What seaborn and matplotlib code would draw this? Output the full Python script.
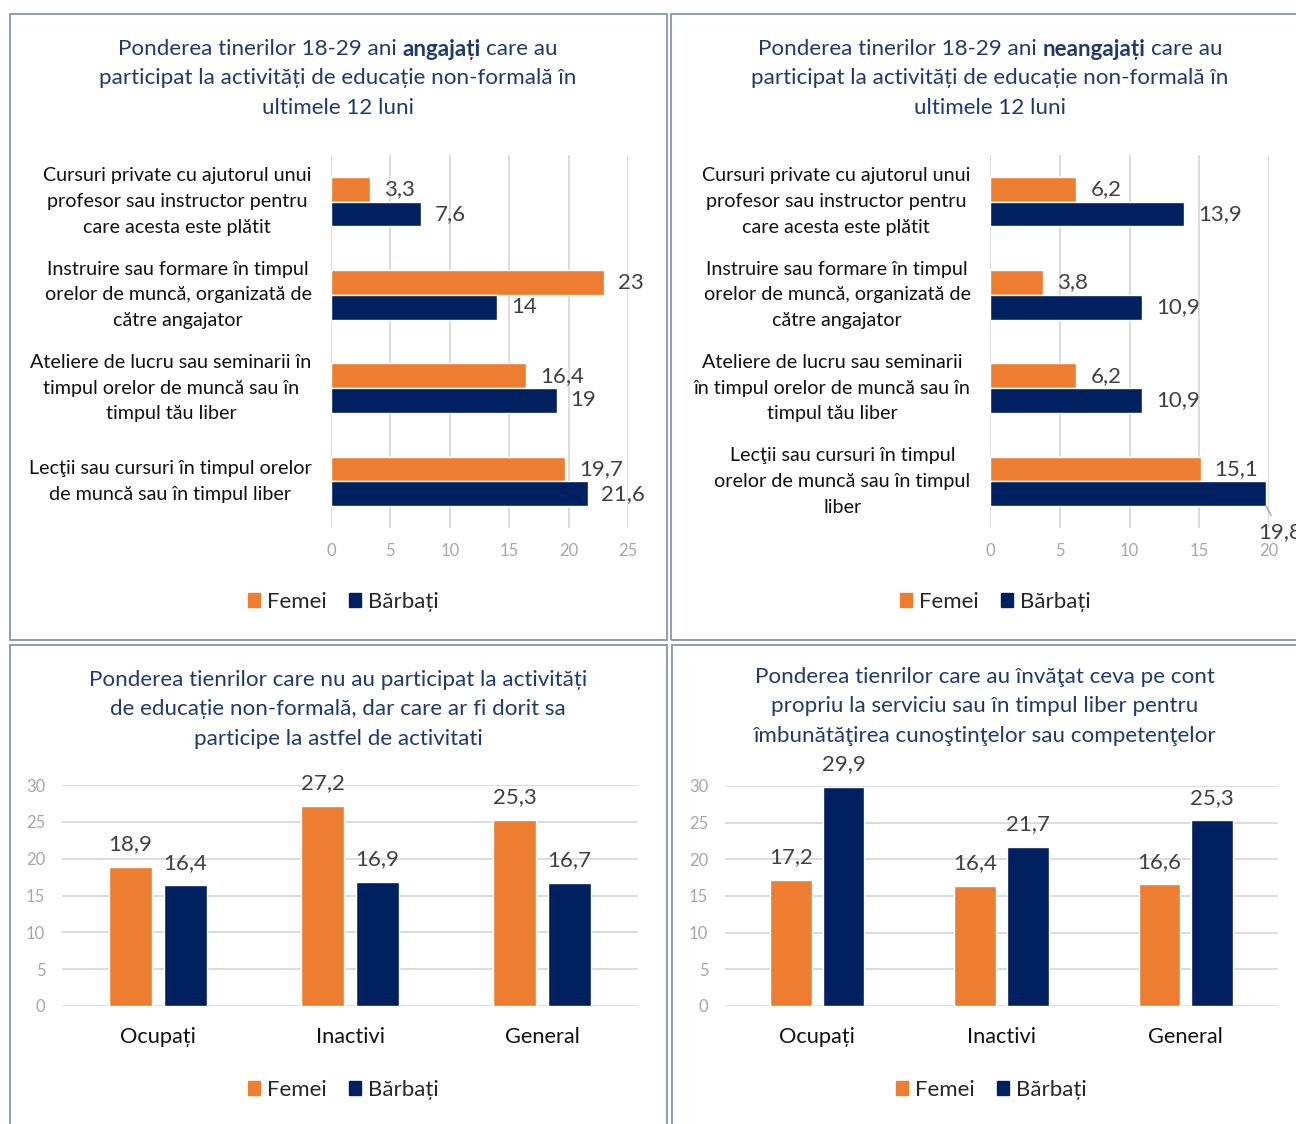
import matplotlib
matplotlib.use('Agg')
import matplotlib.pyplot as plt
import matplotlib.patches as mpatches
import pandas as pd
import seaborn as sns

# --- date ---
etichete_angajati = [
    "Cursuri private cu ajutorul unui\nprofesor sau instructor pentru\ncare acesta este plătit",
    "Instruire sau formare în timpul\norelor de muncă, organizată de\ncătre angajator",
    "Ateliere de lucru sau seminarii în\ntimpul orelor de muncă sau în\ntimpul tău liber",
    "Lecţii sau cursuri în timpul orelor\nde muncă sau în timpul liber",
]
femei_angajati = [3.3, 23, 16.4, 19.7]
barbati_angajati = [7.6, 14, 19, 21.6]

etichete_neangajati = [
    "Cursuri private cu ajutorul unui\nprofesor sau instructor pentru\ncare acesta este plătit",
    "Instruire sau formare în timpul\norelor de muncă, organizată de\ncătre angajator",
    "Ateliere de lucru sau seminarii\nîn timpul orelor de muncă sau în\ntimpul tău liber",
    "Lecţii sau cursuri în timpul\norelor de muncă sau în timpul\nliber",
]
femei_neangajati = [6.2, 3.8, 6.2, 15.1]
barbati_neangajati = [13.9, 10.9, 10.9, 19.8]

grupuri = ['Ocupați', 'Inactivi', 'General']
femei_dorit = [18.9, 27.2, 25.3]
barbati_dorit = [16.4, 16.9, 16.7]
femei_cont_propriu = [17.2, 16.4, 16.6]
barbati_cont_propriu = [29.9, 21.7, 25.3]

sexe = ['Femei', 'Bărbați']
culori = {'Femei': '#ED7D31', 'Bărbați': '#002060'}

W, H = 1296, 1124
TITLU = '#1F3A6B'
GRI = '#A6A6A6'
GRID = '#D9D9D9'
FS_TITLU = 16.1
FS_VAL = 16

sns.set_style('white')
plt.rcParams['font.family'] = ['Lato', 'DejaVu Sans']

fig = plt.figure(figsize=(W / 100, H / 100), dpi=100)


def ax_px(x0, y0, x1, y1):
    # axe in pixeli (sus-stanga)
    return fig.add_axes([x0 / W, 1 - y1 / H, (x1 - x0) / W, (y1 - y0) / H])


def to_long(cats, f, b):
    return pd.DataFrame({'cat': list(cats) * 2,
                         'val': list(f) + list(b),
                         'sex': ['Femei'] * len(f) + ['Bărbați'] * len(b)})


def fmt(v):
    return f'{v:g}'.replace('.', ',')


def horiz(ax, labels, f, b, xmax):
    df = to_long(labels, f, b)
    sns.barplot(data=df, x='val', y='cat', hue='sex', hue_order=sexe, palette=culori,
                orient='h', width=0.53, saturation=1, legend=False, ax=ax)
    ax.set_xlim(0, xmax)
    ax.set_xticks(range(0, xmax + 1, 5))
    ax.grid(axis='x', color=GRID, lw=1.3)
    ax.set_axisbelow(True)
    for s in ax.spines.values():
        s.set_visible(False)
    ax.tick_params(axis='x', length=0, pad=11, labelcolor=GRI, labelsize=12)
    ax.tick_params(axis='y', length=0, labelleft=False)
    # etichetele categoriilor, centrate pe mai multe randuri
    for i, lab in enumerate(labels):
        ax.annotate(lab, xy=(0, i), xycoords=('axes fraction', 'data'), xytext=(-14, 0),
                    textcoords='offset points', ha='right', va='center',
                    multialignment='center', linespacing=1.62, fontsize=14.2,
                    color='#111111', annotation_clip=False)
    ax.set_xlabel('')
    ax.set_ylabel('')
    for cont, vals in zip(ax.containers, [f, b]):
        labs = [fmt(v) if v < xmax - 1 else '' for v in vals]
        ax.bar_label(cont, labels=labs, padding=10, fontsize=FS_VAL, color='#404040')
        for p, v in zip(cont.patches, vals):
            if v >= xmax - 1:
                ax.annotate(fmt(v), xy=(p.get_x() + p.get_width(), p.get_y() + p.get_height()),
                            xytext=(10, -19), textcoords='offset points', ha='center', va='center',
                            fontsize=FS_VAL, color='#404040', annotation_clip=False,
                            arrowprops=dict(arrowstyle='-', color=GRI, lw=1, shrinkA=3, shrinkB=0))


def vert(ax, cats, f, b, width, gap):
    df = to_long(cats, f, b)
    sns.barplot(data=df, x='cat', y='val', hue='sex', hue_order=sexe, palette=culori,
                width=width, gap=gap, saturation=1, legend=False, ax=ax)
    ax.set_ylim(0, 30)
    ax.set_yticks(range(0, 31, 5))
    ax.grid(axis='y', color=GRID, lw=1.3)
    ax.set_axisbelow(True)
    for s in ax.spines.values():
        s.set_visible(False)
    ax.tick_params(axis='y', length=0, pad=12, labelcolor=GRI, labelsize=12)
    ax.tick_params(axis='x', length=0, pad=15, labelsize=15.7, labelcolor='#111111')
    ax.set_xlabel('')
    ax.set_ylabel('')
    for cont, vals in zip(ax.containers, [f, b]):
        ax.bar_label(cont, labels=[fmt(v) for v in vals], padding=9, fontsize=FS_VAL, color='#404040')


def titlu(xc, ys, linii):
    # linii: lista de liste (text, greutate)
    r = fig.canvas.get_renderer()
    sp = fig.text(0, 0, 'x x', fontsize=FS_TITLU)
    sp2 = fig.text(0, 0, 'xx', fontsize=FS_TITLU)
    w_sp = sp.get_window_extent(r).width - sp2.get_window_extent(r).width
    sp.remove()
    sp2.remove()
    for y, bucati in zip(ys, linii):
        texte = [fig.text(0, 1 - y / H, s, fontsize=FS_TITLU, color=TITLU, fontweight=g,
                          ha='left', va='center') for s, g in bucati]
        lat = [t.get_window_extent(r).width for t in texte]
        total = sum(lat) + w_sp * (len(texte) - 1)
        x = xc - total / 2
        for t, w in zip(texte, lat):
            t.set_x(x / W)
            x += w + w_sp


def legenda(xc, y):
    h = [mpatches.Patch(color=culori[s], label=s) for s in sexe]
    fig.legend(handles=h, loc='center', bbox_to_anchor=(xc / W, 1 - y / H), ncol=2,
               frameon=False, fontsize=16, handlelength=0.55, handleheight=0.55,
               handletextpad=0.3, columnspacing=1.0)


def chenar(x0, y0, x1, y1):
    fig.add_artist(mpatches.Rectangle((x0 / W, 1 - y1 / H), (x1 - x0) / W, (y1 - y0) / H,
                                      transform=fig.transFigure, fill=False,
                                      ec='#8495B0', lw=1.3))


chenar(10, 14, 667, 640)
chenar(671, 14, 1305, 640)
chenar(10, 645, 667, 1135)
chenar(672, 645, 1305, 1135)

ax1 = ax_px(331, 155, 628, 528)
horiz(ax1, etichete_angajati, femei_angajati, barbati_angajati, 25)
ax2 = ax_px(990, 155, 1269, 528)
horiz(ax2, etichete_neangajati, femei_neangajati, barbati_neangajati, 20)
ax3 = ax_px(62, 785, 638, 1006)
vert(ax3, grupuri, femei_dorit, barbati_dorit, 0.573, 0.22)
ax4 = ax_px(725, 786, 1278, 1006)
vert(ax4, grupuri, femei_cont_propriu, barbati_cont_propriu, 0.57, 0.21)

titlu(338, [49, 78, 108], [
    [('Ponderea tinerilor 18-29 ani', 'normal'), ('angajați', 'bold'), ('care au', 'normal')],
    [('participat la activități de educație non-formală în', 'normal')],
    [('ultimele 12 luni', 'normal')]])
titlu(990, [49, 78, 108], [
    [('Ponderea tinerilor 18-29 ani', 'normal'), ('neangajați', 'bold'), ('care au', 'normal')],
    [('participat la activități de educație non-formală în', 'normal')],
    [('ultimele 12 luni', 'normal')]])
titlu(338, [680, 709, 739], [
    [('Ponderea tienrilor care nu au participat la activități', 'normal')],
    [('de educație non-formală, dar care ar fi dorit sa', 'normal')],
    [('participe la astfel de activitati', 'normal')]])
titlu(985, [677, 706, 736], [
    [('Ponderea tienrilor care au învăţat ceva pe cont', 'normal')],
    [('propriu la serviciu sau în timpul liber pentru', 'normal')],
    [('îmbunătăţirea cunoştinţelor sau competenţelor', 'normal')]])

legenda(343, 602)
legenda(995, 602)
legenda(343, 1090)
legenda(991, 1090)

fig.savefig('out.png', dpi=100)
